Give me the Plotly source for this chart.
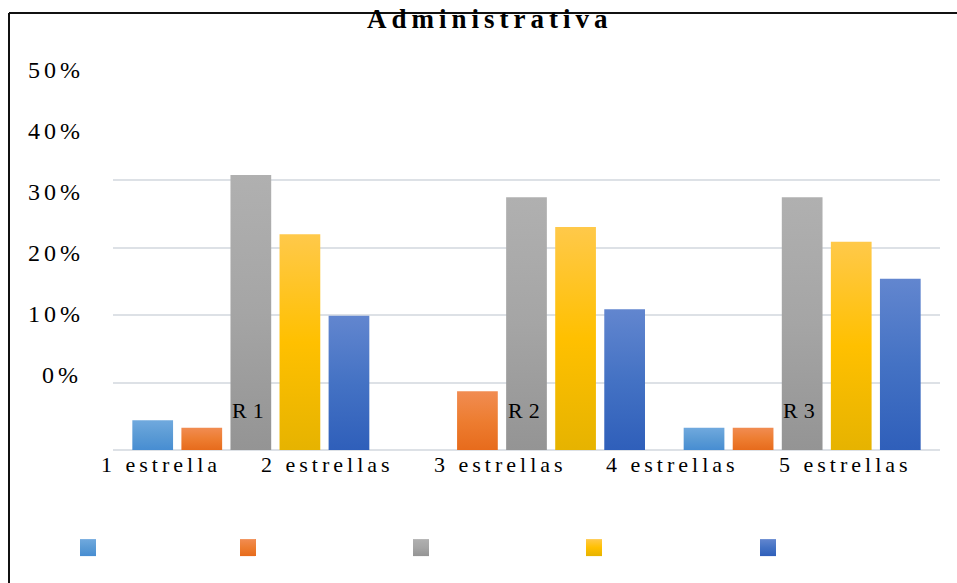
import json
import plotly.graph_objects as go

# Categories and series
regions = ["R1", "R2", "R3"]
series_names = ["1 estrella", "2 estrellas", "3 estrellas", "4 estrellas", "5 estrellas"]
series_values = {
    "1 estrella":  [4.4, 0.0, 3.3],
    "2 estrellas": [3.3, 8.7, 3.3],
    "3 estrellas": [40.8, 37.5, 37.5],
    "4 estrellas": [32.0, 33.1, 30.9],
    "5 estrellas": [19.9, 20.9, 25.4],
}
series_colors = ["#5b9bd5", "#ed7d31", "#a5a5a5", "#ffc000", "#4472c4"]
# vertical shading of each series: top tint, base, bottom shade
series_shades = [
    ["#70a9de", "#5b9bd5", "#478dd2"],
    ["#f18c52", "#ed7d31", "#e76b1c"],
    ["#b0b0b0", "#a5a5a5", "#949494"],
    ["#ffc94a", "#ffc000", "#e6b300"],
    ["#6286cf", "#4472c4", "#2f5fba"],
]
y_tick_labels = ["50%", "40%", "30%", "20%", "10%", "0%"]
title_text = "Administrativa"

W, H = 957, 583
ML, MR, MT, MB = 113, 17, 113, 133
PW, PH = W - ML - MR, H - MT - MB


def px_x(px):
    return (px - ML) / PW


def px_y(py):
    return (H - MB - py) / PH


FONT = "Liberation Serif, Times New Roman, serif"

# one legend box per series, spread along the bottom
legend_keys = ["legend", "legend2", "legend3", "legend4", "legend5"]
legend_centers = [88, 248, 421, 594, 768]

fig = go.Figure()
for name, color, lk in zip(series_names, series_colors, legend_keys):
    fig.add_trace(go.Bar(
        x=regions, y=series_values[name], name=name, legend=lk,
        marker=dict(color=color, line=dict(width=0)),
    ))

annotations = []
spacing = []

# Title
annotations.append(dict(text="<b>%s</b>" % title_text, x=px_x(490), y=px_y(36),
                        xref="paper", yref="paper", xanchor="center", yanchor="bottom",
                        showarrow=False, font=dict(family=FONT, size=27, color="#000")))
spacing.append(5)

# Percent labels on the left
label_y = [70, 131, 192, 253, 314, 375]
for lab, py in zip(y_tick_labels, label_y):
    annotations.append(dict(text=lab, x=px_x(80), y=px_y(py), xref="paper", yref="paper",
                            xanchor="right", yanchor="middle", showarrow=False,
                            font=dict(family=FONT, size=24, color="#000")))
    spacing.append(4)

# Series labels under the axis
star_x = [161, 327, 500, 672, 845]
for lab, px in zip(series_names, star_x):
    annotations.append(dict(text=lab, x=px_x(px), y=px_y(464), xref="paper", yref="paper",
                            xanchor="center", yanchor="middle", showarrow=False,
                            font=dict(family=FONT, size=22, color="#000")))
    spacing.append(4)

# Region labels inside the plot
for reg in regions:
    annotations.append(dict(text=reg, x=reg, y=5.8, xref="x", yref="y",
                            xanchor="center", yanchor="middle", showarrow=False,
                            font=dict(family=FONT, size=22, color="#000")))
    spacing.append(6)

shapes = [
    dict(type="line", xref="paper", yref="paper", x0=px_x(9), x1=px_x(957),
         y0=px_y(13), y1=px_y(13), line=dict(color="#111", width=2)),
    dict(type="line", xref="paper", yref="paper", x0=px_x(9), x1=px_x(9),
         y0=px_y(13), y1=px_y(583), line=dict(color="#111", width=2)),
]

legends = {}
for lk, cx in zip(legend_keys, legend_centers):
    legends[lk] = dict(orientation="h", xref="container", yref="container",
                       x=(cx - 20) / W, y=1 - 532 / H, xanchor="left", yanchor="top",
                       itemwidth=30,
                       font=dict(color="rgba(0,0,0,0)", size=14),
                       bgcolor="rgba(0,0,0,0)")

fig.update_layout(
    width=W, height=H,
    margin=dict(l=ML, r=MR, t=MT, b=MB, pad=0),
    paper_bgcolor="white", plot_bgcolor="white",
    barmode="group", bargap=0.11, bargroupgap=0.17,
    font=dict(family=FONT, size=20, color="#000"),
    xaxis=dict(showticklabels=False, showgrid=False, zeroline=False, showline=False,
               ticks=""),
    yaxis=dict(range=[0, 50], dtick=10, showticklabels=False, showgrid=True,
               gridcolor="#dde1e6", gridwidth=2, zeroline=True, zerolinecolor="#dde1e6",
               zerolinewidth=2, showline=False, ticks=""),
    showlegend=True,
    annotations=annotations,
    shapes=shapes,
    **legends,
)

post = """
var gd = document.getElementById('{plot_id}');
var sp = %s;
var shades = %s;
var NS = 'http://www.w3.org/2000/svg';
function ensureGradients() {
  var svg = gd.querySelector('svg.main-svg');
  if (!svg || svg.querySelector('#barshade0')) { return; }
  var defs = document.createElementNS(NS, 'defs');
  shades.forEach(function (c, i) {
    var g = document.createElementNS(NS, 'linearGradient');
    g.setAttribute('id', 'barshade' + i);
    g.setAttribute('x1', '0'); g.setAttribute('y1', '0');
    g.setAttribute('x2', '0'); g.setAttribute('y2', '1');
    [[0, c[0]], [0.5, c[1]], [1, c[2]]].forEach(function (st) {
      var s = document.createElementNS(NS, 'stop');
      s.setAttribute('offset', st[0]);
      s.setAttribute('stop-color', st[1]);
      g.appendChild(s);
    });
    defs.appendChild(g);
  });
  svg.insertBefore(defs, svg.firstChild);
}
function restyle() {
  ensureGradients();
  sp.forEach(function (s, i) {
    var t = gd.querySelector('g.annotation[data-index="' + i + '"] text');
    if (t) { t.style.letterSpacing = s + 'px'; }
  });
  gd.querySelectorAll('g.trace.bars').forEach(function (tr, i) {
    tr.querySelectorAll('path').forEach(function (p) {
      p.style.fill = 'url(#barshade' + i + ')';
    });
  });
  gd.querySelectorAll('.legendpoints path').forEach(function (p, i) {
    p.setAttribute('d', 'M8,8.5H-8V-8.5H8Z');
    p.style.fill = 'url(#barshade' + (i %% shades.length) + ')';
  });
}
restyle();
gd.on('plotly_afterplot', restyle);
""" % (json.dumps(spacing), json.dumps(series_shades))

fig.write_html("out.html", post_script=post)
